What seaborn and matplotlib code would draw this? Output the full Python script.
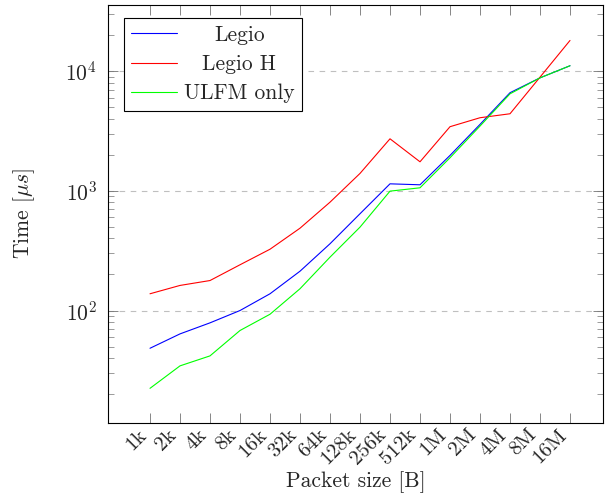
import numpy as np
import pandas as pd
import seaborn as sns
import matplotlib.pyplot as plt

sizes = ['1k', '2k', '4k', '8k', '16k', '32k', '64k', '128k', '256k', '512k',
         '1M', '2M', '4M', '8M', '16M']
legio = [48.4, 63.8, 78.9, 100, 138, 213, 361, 643, 1143, 1122,
         1973, 3583, 6590, 8770, 11070]
legio_h = [138, 162, 178, 241, 325, 487, 803, 1396, 2717, 1746,
           3428, 4074, 4397, 8890, 18000]
ulfm = [22.4, 34.5, 41.8, 68.1, 93.1, 152, 279, 497, 993, 1059,
        1887, 3470, 6450, 8770, 11070]

series = {'Legio': legio, 'Legio H': legio_h, 'ULFM only': ulfm}
df = pd.concat([pd.DataFrame({'pos': np.arange(len(sizes)), 'time': v, 'impl': k})
                for k, v in series.items()])

sns.set_style('ticks')
plt.rcParams['font.family'] = 'serif'
plt.rcParams['font.serif'] = ['cmr10', 'DejaVu Serif']
plt.rcParams['mathtext.fontset'] = 'cm'
plt.rcParams['axes.formatter.use_mathtext'] = True
plt.rcParams['font.size'] = 15.5

fig = plt.figure(figsize=(6.05, 4.93), dpi=100)
ax = fig.add_axes([108/605, 1 - 423/493, (603-108)/605, (423-5)/493])

sns.lineplot(data=df, x='pos', y='time', hue='impl',
             palette={'Legio': '#0000ff', 'Legio H': '#ff0000', 'ULFM only': '#00ff00'},
             linewidth=0.8, ax=ax)

ax.set_yscale('log')
ax.set_ylim(11.5, 35600)
ax.set_xlim(-1.4, 15.1)
ax.set_xticks(np.arange(len(sizes)))
ax.set_xticklabels(sizes, rotation=45, ha='right', fontsize=15)
ax.set_xlabel('Packet size [B]', labelpad=2)
ax.set_ylabel(r'Time [$\mu s$]', labelpad=20)

ax.yaxis.grid(True, which='major', linestyle=(0, (5, 5)), color='0.75', linewidth=0.8)
ax.tick_params(which='both', direction='in', top=True, right=True, color='0.45')
ax.tick_params(which='major', length=7, width=0.6)
ax.tick_params(which='minor', length=4, width=0.5)
ax.tick_params(axis='x', pad=2)
ax.tick_params(axis='y', pad=8)
for s in ax.spines.values():
    s.set_linewidth(0.8)
    s.set_color('black')

leg = ax.legend(loc='upper left', bbox_to_anchor=(0.032, 0.969), borderaxespad=0,
                frameon=True, fancybox=False, edgecolor='black', framealpha=1,
                handlelength=2.1, handletextpad=0.35, borderpad=0.35, labelspacing=0.45)
leg.get_frame().set_linewidth(0.8)

# centre the legend labels like pgfplots does
fig.canvas.draw()
texts = leg.get_texts()
widths = [t.get_window_extent().width for t in texts]
for t, w in zip(texts, widths):
    t.set_position(((max(widths) - w) / 2, 0))

fig.savefig('out.png', dpi=100)
